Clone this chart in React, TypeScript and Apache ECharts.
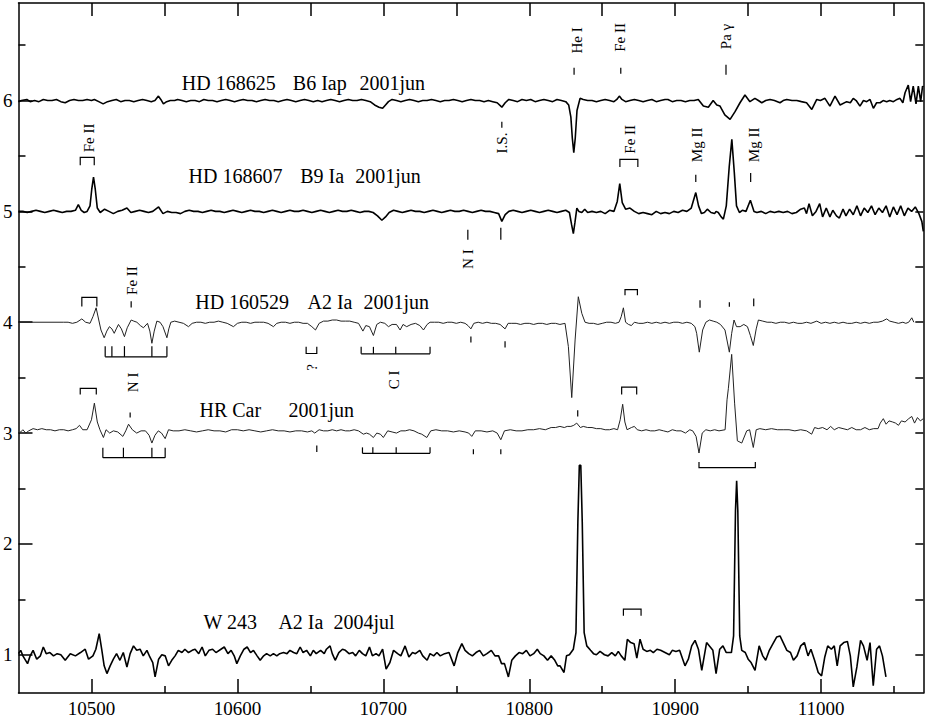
import React, { useEffect, useRef } from "react";
import * as echarts from "echarts";

// ---------- axes ----------
const X_MIN = 10450;
const X_MAX = 11070;
const Y_MIN = 0.655;
const Y_MAX = 6.88;
const xMajorTicks = [10500, 10600, 10700, 10800, 10900, 11000];
const xMinorTicks = [10550, 10650, 10750, 10850, 10950, 11050];
const xTopTicks = [10500, 10550, 10600, 10650, 10700, 10750, 10800, 10850, 10900, 10950, 11000, 11050];
const yMajorTicks = [1, 2, 3, 4, 5, 6];
const yMinorTicks = [1.5, 2.5, 3.5, 4.5, 5.5, 6.5];
const yRightTicks = [1, 1.5, 2, 2.5, 3, 3.5, 4, 4.5, 5, 5.5, 6, 6.5];

// ---------- spectra [wavelength (Å), normalised flux + offset] ----------
const hd168625: [number, number][] = [
[10450,5.99],[10452,6.00],[10455.7,6.01],[10458,5.99],[10461,6.00],[10464,5.99],[10467,6.01],[10470,6.00],[10473,6.00],[10476,6.01],[10479,5.99],[10482,5.98],[10485,6.00],[10488,6.01],[10491,6.00],[10494,6.00],[10497,6.01],[10500,6.00],[10502,6.01],[10505,5.99],[10508,5.97],[10511,5.99],[10514,6.00],[10517,6.01],[10520,5.99],[10523,6.00],[10526,6.00],[10529,5.99],[10532,6.00],[10535,6.01],[10538,6.00],[10541,5.99],[10543.5,6.00],[10545.9,6.04],[10547.5,6.01],[10549.3,5.97],[10551.5,5.99],[10554,6.00],[10557,6.00],[10559,6.01],[10562,6.00],[10565,5.99],[10568,6.00],[10571,6.00],[10574,5.99],[10577,6.01],[10580,6.00],[10583,6.00],[10586,5.99],[10589,6.00],[10592,6.01],[10595,6.00],[10598,5.99],[10601,6.00],[10604,6.01],[10607,6.00],[10610,6.00],[10613,5.99],[10616,6.00],[10619,6.01],[10622,6.00],[10625,6.00],[10628,5.99],[10631,6.00],[10634,6.01],[10637,6.00],[10640,5.99],[10643,6.00],[10646,6.01],[10649,6.00],[10652,5.99],[10655,6.00],[10658,5.99],[10661,6.00],[10664,6.01],[10667,6.00],[10670,5.99],[10673,6.00],[10676,6.01],[10679,6.00],[10682,6.00],[10685,6.01],[10688,6.00],[10691,5.99],[10694,5.96],[10697,5.94],[10699.5,5.93],[10701.5,5.96],[10703.5,5.99],[10706,6.01],[10709,6.00],[10712,5.99],[10715,6.00],[10718,6.01],[10721,6.00],[10724,5.99],[10727,6.00],[10730,6.00],[10733,6.01],[10736,6.00],[10739,5.99],[10742,6.00],[10745,6.00],[10748,6.01],[10751,6.00],[10754,5.99],[10757,6.00],[10760,6.01],[10763,6.00],[10766,6.00],[10769,5.99],[10772,6.00],[10775,5.99],[10778,5.98],[10781.2,5.94],[10783.5,5.98],[10786,6.01],[10789,6.00],[10792,5.99],[10795,6.01],[10798,6.00],[10801,6.01],[10804,5.99],[10807,6.00],[10810,6.01],[10813,6.00],[10816,5.99],[10819,6.01],[10822,6.00],[10825,5.99],[10827,5.96],[10828.5,5.85],[10829.5,5.66],[10830.5,5.53],[10831.5,5.66],[10832.7,5.91],[10834.8,6.02],[10837,6.01],[10840,6.00],[10843,6.00],[10846,5.99],[10849,6.00],[10852,6.01],[10855,6.00],[10858,5.99],[10860,6.01],[10861.7,6.04],[10863.5,6.01],[10866,5.99],[10869,6.00],[10872,6.01],[10875,6.00],[10878,5.99],[10881,6.00],[10884,6.01],[10887,5.99],[10890,6.00],[10893,6.01],[10895,6.01],[10898,5.99],[10901,6.00],[10904,6.00],[10907,5.99],[10910,6.00],[10913,6.00],[10915.8,6.01],[10919.3,5.95],[10922.7,5.94],[10926,6.00],[10928.5,5.96],[10930.7,5.95],[10934,5.87],[10937.6,5.83],[10941,5.90],[10944.4,5.98],[10947.8,6.05],[10951.2,5.99],[10954.6,6.02],[10957,6.00],[10959.3,5.98],[10962,6.00],[10965,6.01],[10968,6.00],[10971.8,5.98],[10974,6.00],[10976.4,6.01],[10980,6.00],[10983.3,6.00],[10986.5,5.99],[10990,5.98],[10993.6,5.92],[10997,6.01],[10999.5,6.00],[11002.6,6.02],[11006,5.95],[11009.5,6.04],[11013,5.96],[11017.5,5.99],[11020,5.98],[11022,6.02],[11024,6.00],[11026.6,5.95],[11029,6.00],[11031.2,5.99],[11033.5,6.01],[11035.8,5.93],[11038,5.98],[11040.4,5.98],[11042.5,6.00],[11044.9,5.99],[11047,6.00],[11049.5,5.99],[11052,6.01],[11054,6.02],[11056,5.98],[11057.5,6.07],[11059.7,6.14],[11061.3,5.99],[11063.1,6.13],[11065,5.97],[11066.6,6.13],[11068.2,5.99],[11069.5,6.13],[11070,6.12]
];

const hd168607: [number, number][] = [
[10450,5.00],[10453,5.00],[10456,4.99],[10459,5.00],[10462,5.01],[10465,5.00],[10468,4.99],[10471,5.00],[10474,5.01],[10477,5.00],[10480,4.99],[10483,5.00],[10486,5.00],[10489,5.01],[10491,5.06],[10493,5.01],[10495,4.99],[10497,5.00],[10499,5.05],[10500.2,5.20],[10501.4,5.31],[10502.6,5.20],[10504,5.03],[10506,4.99],[10509,5.02],[10512,5.00],[10515,4.98],[10518,5.00],[10521,5.01],[10524.3,5.03],[10527,4.99],[10530,5.00],[10533,5.01],[10536,5.00],[10539,4.99],[10542,5.00],[10546,5.04],[10549,4.98],[10552,5.00],[10555,4.99],[10558,4.99],[10561,4.98],[10564,5.00],[10567,5.01],[10570,5.00],[10573,5.00],[10576,4.99],[10579,5.00],[10582,5.01],[10585,5.00],[10588,5.00],[10591,4.99],[10594,5.00],[10597,5.01],[10600,5.00],[10603,4.99],[10606,5.00],[10609,5.01],[10612,5.00],[10615,5.00],[10618,4.99],[10621,5.00],[10624,5.01],[10627,5.00],[10630,4.99],[10633,5.00],[10636,5.01],[10639,5.00],[10642,5.00],[10645,5.01],[10648,5.00],[10651,4.99],[10654,5.00],[10657,5.01],[10660,5.00],[10663,4.99],[10666,5.00],[10669,5.01],[10672,5.00],[10675,5.00],[10678,5.01],[10681,5.00],[10684,4.99],[10687,5.00],[10690,5.00],[10693,4.99],[10696,4.96],[10699,4.92],[10701.5,4.95],[10704,4.99],[10707,5.01],[10710,5.00],[10713,4.99],[10716,5.00],[10719,5.01],[10722,5.00],[10725,5.00],[10728,4.99],[10731,5.00],[10734,5.01],[10737,5.00],[10740,4.99],[10743,5.00],[10746,5.01],[10749,5.00],[10752,5.00],[10755,5.01],[10758,5.00],[10761,4.99],[10764,5.00],[10767,5.01],[10770,5.00],[10773,5.00],[10776,4.99],[10779,4.98],[10781.2,4.91],[10783.5,4.97],[10786,5.00],[10789,5.01],[10792,5.00],[10795,4.99],[10798,5.00],[10801,5.01],[10804,5.00],[10807,4.99],[10810,5.00],[10813,5.01],[10816,5.00],[10819,4.99],[10822,5.00],[10825,5.01],[10827.5,4.99],[10829,4.88],[10830.2,4.80],[10831.3,4.90],[10832.6,5.03],[10834,5.00],[10836,4.99],[10838,5.02],[10840,4.99],[10843,5.00],[10846,4.99],[10849,5.00],[10852,4.98],[10855,5.01],[10858,5.00],[10860.3,5.09],[10862,5.25],[10863.7,5.08],[10866,5.02],[10869,5.03],[10872,5.00],[10875,4.98],[10878,4.99],[10881,4.98],[10884,4.97],[10887,5.00],[10890,4.98],[10893,4.99],[10896,4.98],[10899,5.00],[10902,4.99],[10905,5.01],[10908,5.00],[10911,5.03],[10914.1,5.17],[10916,5.05],[10918,4.98],[10920,4.99],[10922,5.02],[10924.5,4.99],[10927,4.98],[10928,5.00],[10929.5,4.99],[10931.5,4.95],[10933,4.93],[10935,5.05],[10937,5.40],[10938.8,5.65],[10940.5,5.35],[10942,5.05],[10944,4.99],[10946,5.01],[10948.5,5.00],[10951.5,5.10],[10954,5.00],[10956,4.99],[10959,5.00],[10962,4.98],[10965,5.00],[10968,4.99],[10971,5.00],[10974,4.99],[10977,5.00],[10980,4.98],[10983,4.99],[10986,5.02],[10988.5,5.03],[10990,4.98],[10991.7,5.07],[10994,4.96],[10996.5,5.00],[10999,5.07],[11001,4.95],[11003.5,5.03],[11006,4.95],[11008,5.01],[11010.5,4.96],[11012.5,4.94],[11015,5.02],[11017,4.96],[11019.5,5.02],[11022,4.97],[11024.5,5.05],[11027,4.96],[11029.5,5.03],[11032,4.99],[11034.5,5.05],[11037,4.97],[11039.5,5.03],[11042,4.99],[11044.5,5.05],[11047,4.95],[11049.5,5.04],[11052,4.97],[11054.5,5.05],[11057,4.96],[11059.5,5.03],[11062,5.00],[11064.5,5.04],[11067,4.98],[11069,4.91],[11070,4.82]
];

const hd160529: [number, number][] = [
[10450,4.00],[10481,4.00],[10484,4.00],[10487,3.99],[10490,4.00],[10493.4,4.03],[10496,4.00],[10499,3.99],[10501,4.05],[10503.2,4.13],[10505,4.02],[10506.5,3.93],[10508.7,3.86],[10510.5,3.92],[10512.3,3.96],[10514,3.94],[10515.6,3.90],[10517,3.94],[10518.5,3.98],[10520.5,3.94],[10522.6,3.87],[10524.5,3.95],[10527.2,4.02],[10529,4.01],[10531.1,4.00],[10533.5,3.97],[10535.6,3.95],[10538.4,3.99],[10540,3.92],[10541.4,3.81],[10543,3.92],[10544.8,4.01],[10547,4.00],[10549,3.96],[10551.7,3.86],[10553,3.94],[10554.4,4.00],[10557,4.01],[10560,4.00],[10563,3.99],[10566.5,3.96],[10569,3.99],[10572,4.00],[10575,4.00],[10578,3.99],[10581,4.00],[10584,4.00],[10587,4.01],[10590,4.00],[10593,3.99],[10597.3,3.96],[10600,3.99],[10603,4.00],[10606,4.00],[10609,3.99],[10612,4.00],[10615,4.00],[10618,4.00],[10621,3.99],[10624.7,3.96],[10627,3.99],[10630,4.00],[10633,4.00],[10636,3.99],[10639,4.00],[10642,4.00],[10645,3.99],[10648,3.99],[10651,3.96],[10653.5,3.93],[10656,3.99],[10659,4.01],[10662,4.01],[10665,4.02],[10668,4.02],[10671,4.01],[10674,4.01],[10677,4.01],[10680,4.00],[10683,3.99],[10686,3.92],[10688,3.97],[10690.5,3.96],[10693.2,3.88],[10695.5,3.98],[10698,4.00],[10701,3.99],[10703.5,3.96],[10706,3.98],[10709,3.98],[10711.5,3.93],[10713.5,3.98],[10716,3.96],[10719,3.98],[10722,3.99],[10725,3.97],[10727.5,3.93],[10730,3.98],[10732,4.00],[10735,4.00],[10738,4.00],[10741,3.99],[10744,4.00],[10747,4.00],[10750,3.99],[10753,4.00],[10756,3.99],[10758,3.97],[10760,3.94],[10762,3.99],[10765,4.00],[10768,3.99],[10771,4.00],[10774,3.99],[10777,3.99],[10780,3.98],[10783.4,3.94],[10785.5,3.99],[10788,3.99],[10791,3.99],[10794,3.98],[10797,3.99],[10800,3.99],[10803,3.98],[10806,3.99],[10809,3.99],[10812,3.98],[10815,3.99],[10818,3.99],[10821,3.98],[10824.5,3.99],[10826.8,3.78],[10829.1,3.32],[10831.4,3.84],[10833.6,4.23],[10836,4.08],[10838.2,4.00],[10841,3.99],[10844,3.99],[10847,3.98],[10850,3.99],[10853,4.00],[10856,4.00],[10859,3.99],[10861.5,4.00],[10863,4.05],[10864.5,4.13],[10866,4.00],[10868,3.98],[10870,3.97],[10872,4.00],[10875,3.99],[10878,3.99],[10881,4.00],[10884,3.99],[10887,4.00],[10890,3.99],[10893,4.00],[10896,3.99],[10899,4.00],[10902,4.00],[10905,3.99],[10908,4.00],[10911,3.99],[10913.5,3.96],[10914.7,3.90],[10916.5,3.73],[10918.8,3.93],[10921,4.00],[10923.5,4.02],[10926,4.01],[10928.5,4.00],[10931,3.98],[10934.1,3.93],[10937.1,3.73],[10938.7,3.90],[10940.3,4.02],[10942,3.96],[10944.5,3.96],[10947,3.98],[10949.5,3.96],[10951.5,3.88],[10953.5,3.79],[10955.5,3.94],[10957,4.02],[10960,4.01],[10963,4.00],[10966,4.00],[10969,3.99],[10972,4.00],[10975,4.00],[10978,3.99],[10981,4.00],[10984,3.99],[10987,3.99],[10990,4.00],[10993,3.99],[10997,4.01],[11000,3.99],[11003,4.00],[11006,3.99],[11009,4.00],[11012,3.99],[11015,4.00],[11018,3.99],[11021,3.99],[11024,4.00],[11027,3.99],[11030,4.00],[11033,3.99],[11036,4.00],[11039,4.00],[11042,4.01],[11044.9,4.03],[11047,4.01],[11050,4.00],[11053,3.99],[11056,4.00],[11058,3.99],[11060,4.00],[11062.1,4.04],[11063.5,4.00]
];

const hrCar: [number, number][] = [
[10450,3.00],[10451.5,3.01],[10453,3.03],[10455,3.00],[10457,3.02],[10460,3.04],[10463,3.03],[10466,3.04],[10469,3.03],[10472,3.03],[10475,3.02],[10478,3.03],[10481,3.03],[10484,3.02],[10487,3.03],[10489.5,3.04],[10491.8,3.07],[10494,3.03],[10497,3.03],[10500,3.12],[10502,3.27],[10504,3.10],[10505.8,3.03],[10508.2,2.96],[10510,3.03],[10512.5,3.00],[10515,3.02],[10518,3.01],[10521.5,2.97],[10523.5,3.02],[10525.4,3.08],[10528,3.03],[10531,3.00],[10534,3.02],[10537,3.02],[10539.5,2.98],[10541.4,2.91],[10543.5,2.98],[10545.8,3.02],[10548,3.00],[10550.5,2.95],[10552.8,3.03],[10556,3.02],[10560,3.02],[10564,3.03],[10568,3.02],[10572,3.01],[10576,3.02],[10580,3.03],[10584,3.02],[10588,3.02],[10592,3.01],[10596,3.03],[10600,3.03],[10604,3.02],[10608,3.03],[10612,3.02],[10616,3.01],[10620,3.02],[10624,3.03],[10628,3.02],[10632,3.02],[10636,3.01],[10640,3.02],[10644,3.02],[10648,3.01],[10651,3.02],[10653,3.00],[10656,3.03],[10659,3.02],[10662,3.02],[10665,3.03],[10668,3.02],[10671,3.03],[10674,3.02],[10677,3.02],[10680,3.03],[10683,3.02],[10686.3,2.99],[10688.5,3.00],[10690.5,2.99],[10693.2,2.96],[10695.5,3.00],[10698,2.99],[10700,2.96],[10703,3.02],[10706,3.01],[10709,3.00],[10712,3.02],[10715,3.02],[10718,3.03],[10721,3.02],[10724,3.00],[10726.3,2.99],[10729.8,2.96],[10732.5,3.02],[10736,3.03],[10740,3.02],[10744,3.02],[10748,3.01],[10752,3.02],[10756,3.01],[10758.5,3.00],[10760.6,2.97],[10763,3.02],[10767,3.02],[10771,3.01],[10775,3.02],[10778,3.00],[10780.5,2.94],[10783,3.02],[10787,3.03],[10791,3.02],[10795,3.02],[10799,3.03],[10803,3.03],[10807,3.04],[10811,3.03],[10815,3.05],[10818,3.05],[10821,3.06],[10824,3.05],[10826,3.06],[10828.5,3.06],[10830.5,3.07],[10832.5,3.09],[10835,3.05],[10837,3.06],[10840,3.05],[10843,3.05],[10846,3.04],[10849,3.04],[10852,3.03],[10855,3.03],[10858,3.04],[10860.5,3.03],[10862.3,3.12],[10864,3.26],[10865.5,3.10],[10867,3.03],[10870,3.05],[10872,3.06],[10874,3.03],[10877,3.02],[10880,3.03],[10883,3.02],[10886,3.02],[10889,3.03],[10892,3.02],[10895,3.01],[10898,3.03],[10901,3.02],[10904,3.02],[10907,3.00],[10910,3.03],[10912,3.02],[10914.3,2.97],[10916.3,2.82],[10918.5,3.00],[10921,3.03],[10924,3.02],[10927,3.03],[10930,3.02],[10934.2,3.03],[10935.5,3.30],[10936.4,3.40],[10938.7,3.71],[10940.7,3.27],[10942.6,2.93],[10945.6,2.91],[10949,3.02],[10951,3.03],[10953.5,2.87],[10955.5,3.03],[10958,3.04],[10962,3.03],[10966,3.04],[10970,3.03],[10974,3.03],[10978,3.03],[10982,3.02],[10986,3.03],[10990,3.02],[10993.5,2.99],[10995.5,3.05],[10998,3.04],[11001,3.05],[11004,3.03],[11006.5,3.06],[11009,3.03],[11012,3.05],[11015,3.04],[11018,3.03],[11021,3.05],[11024,3.03],[11027,3.03],[11030,3.05],[11033,3.03],[11036,3.04],[11039,3.04],[11040.5,3.09],[11042.6,3.13],[11044.5,3.08],[11046.5,3.11],[11049,3.10],[11051,3.09],[11053,3.07],[11055,3.11],[11057.5,3.10],[11060,3.13],[11062.1,3.15],[11064,3.09],[11066,3.14],[11068,3.11],[11070,3.13]
];

const w243: [number, number][] = [
[10450,1.01],[10451.5,1.04],[10453,0.99],[10456.2,0.92],[10458,0.99],[10460,1.04],[10462.5,0.96],[10465,0.99],[10467,1.07],[10469,1.01],[10471.5,1.02],[10474,0.99],[10476.5,1.01],[10479,1.00],[10482,0.95],[10485.5,1.01],[10489,0.99],[10492.5,1.02],[10495.7,1.05],[10498,0.96],[10501,0.99],[10503,1.05],[10505.3,1.19],[10507,1.05],[10508.7,0.90],[10510.6,0.83],[10512.8,0.90],[10515,0.96],[10517.2,1.01],[10519.5,0.95],[10521.8,1.02],[10524.3,0.89],[10526.5,1.01],[10528.8,1.08],[10531,1.04],[10533.3,1.05],[10535.5,0.99],[10538,1.04],[10540,0.98],[10542,0.93],[10543.6,0.80],[10546,0.96],[10548.2,1.00],[10550.5,0.99],[10552.8,0.90],[10555,0.95],[10557.3,0.99],[10559.5,1.04],[10562,1.02],[10564,1.05],[10566.5,1.02],[10569,1.04],[10571,1.05],[10573.5,1.01],[10575.8,1.07],[10578,0.99],[10580.5,1.04],[10583,1.05],[10585.3,1.02],[10588.7,1.05],[10591,1.07],[10593.5,1.01],[10595.7,1.04],[10597.8,0.99],[10599.6,0.92],[10602,0.99],[10604.5,1.05],[10606.7,1.07],[10609,1.02],[10611,1.04],[10613.5,0.99],[10615.6,0.95],[10618,0.99],[10620,1.01],[10622.5,0.99],[10624.7,1.01],[10627,0.99],[10629,1.01],[10631.6,1.02],[10634,1.01],[10636,1.04],[10638.5,1.02],[10640.7,1.01],[10643,1.07],[10645,1.02],[10647.4,1.04],[10650,0.99],[10652,1.04],[10654,1.01],[10657,1.04],[10659.5,1.01],[10661,1.05],[10663.5,1.08],[10665,1.01],[10667,0.95],[10669.5,1.02],[10672,1.05],[10674,1.04],[10676.5,1.01],[10679,1.02],[10681,0.99],[10683.5,1.04],[10685.7,1.01],[10688,0.99],[10690.5,1.07],[10692.5,0.99],[10695,1.01],[10697,0.99],[10699.5,1.05],[10701.9,0.87],[10704.5,0.93],[10707,1.04],[10709.8,1.01],[10712,0.99],[10714.9,1.08],[10717.5,0.98],[10720,1.02],[10722,1.01],[10725,1.04],[10727,0.99],[10730,0.95],[10732,1.01],[10734.5,0.99],[10736.7,1.02],[10739,0.99],[10742,1.01],[10745,1.02],[10748.5,0.90],[10751,1.02],[10753.8,1.10],[10756,1.04],[10758.5,1.01],[10761,0.99],[10763.5,1.02],[10766,1.04],[10768.5,0.99],[10771,1.01],[10774,1.04],[10776.5,0.99],[10779,0.99],[10781,0.92],[10783,0.92],[10785.7,0.80],[10788,0.95],[10790.5,0.99],[10793,1.02],[10795.5,1.01],[10798,1.04],[10800.5,0.99],[10803,1.01],[10805.5,1.05],[10807.5,1.01],[10810,0.99],[10812.5,0.95],[10815,0.99],[10817.5,0.95],[10819.5,0.90],[10821.1,0.90],[10823.8,0.84],[10825.5,0.99],[10827.5,1.00],[10830.2,1.05],[10832,1.20],[10833.3,2.20],[10834.3,2.71],[10835.3,2.71],[10836.3,2.20],[10837.6,1.20],[10839.4,1.08],[10842,1.04],[10844,1.01],[10846,1.00],[10848.5,1.03],[10851.5,1.00],[10854,0.99],[10856.5,1.02],[10859,0.99],[10861,1.03],[10863,0.99],[10865.5,0.95],[10867.2,1.14],[10869.5,1.11],[10871.8,1.10],[10873.7,0.97],[10875.9,1.14],[10878,1.05],[10880.5,1.03],[10883,1.04],[10885,1.02],[10887.5,1.05],[10890,1.04],[10893,1.02],[10896,1.00],[10898,1.04],[10900.5,1.03],[10903,1.04],[10906.7,0.90],[10909,0.96],[10911.3,1.08],[10913.6,1.13],[10915.9,1.05],[10918.2,0.86],[10921.5,1.11],[10924,1.07],[10925.8,1.04],[10928,0.83],[10930.5,1.05],[10932.7,1.08],[10935,1.02],[10938.5,1.02],[10940,1.17],[10941.3,2.30],[10942.1,2.57],[10942.9,2.30],[10944.2,1.17],[10945.6,1.04],[10948,1.02],[10950,0.96],[10952,0.93],[10954.7,0.86],[10957.5,1.08],[10960,0.99],[10962,0.95],[10964.5,1.04],[10967,1.10],[10969.5,1.16],[10971.8,1.17],[10974,1.11],[10976.5,1.04],[10979,1.02],[10981,0.95],[10983.5,0.99],[10986,1.08],[10988.5,1.11],[10991,0.99],[10993,1.05],[10995.5,0.95],[10998,0.84],[11000.3,0.81],[11002.5,0.98],[11004.5,1.08],[11007,1.05],[11009,1.08],[11011,0.90],[11013,1.08],[11015.5,1.11],[11018,1.12],[11020,0.99],[11022,0.71],[11024.5,0.89],[11027,1.13],[11029,1.08],[11031.5,0.95],[11033.5,1.11],[11035.7,0.72],[11038,1.05],[11040,1.08],[11042,0.99],[11044.4,0.80]
];

// ---------- annotations (wavelength, level) ----------
// single ticks: [wavelength, from, to]
const lineTicks: [number, number, number][] = [
  [10830.7, 6.295, 6.232], [10862.7, 6.295, 6.241], [10934.8, 6.322, 6.232],
  [10781.2, 5.808, 5.754], [10914.1, 5.33, 5.266], [10951.7, 5.347, 5.266],
  [10757.9, 4.834, 4.745], [10780.5, 4.853, 4.745],
  [10527.2, 4.189, 4.132], [10917.0, 4.198, 4.130], [10937.1, 4.18, 4.139], [10953.8, 4.214, 4.144],
  [10760.0, 3.871, 3.817], [10783.4, 3.829, 3.772],
  [10526.5, 3.186, 3.141], [10833.2, 3.205, 3.15],
  [10654.4, 2.889, 2.829], [10761.7, 2.853, 2.808], [10780.5, 2.853, 2.808],
];
// brackets / combs: tick wavelengths, level of the bar, level of the tick ends
const combs: { at: number[]; bar: number; end: number }[] = [
  { at: [10492.3, 10501.9], bar: 5.488, end: 5.416 },
  { at: [10862.1, 10874.4], bar: 5.47, end: 5.40 },
  { at: [10493.4, 10503.7], bar: 4.225, end: 4.141 },
  { at: [10865.6, 10874.1], bar: 4.295, end: 4.243 },
  { at: [10509.4, 10514.0, 10522.6, 10541.4, 10551.7], bar: 3.688, end: 3.784 },
  { at: [10647.1, 10654.4], bar: 3.718, end: 3.778 },
  { at: [10684.8, 10693.2, 10708.5, 10732.0], bar: 3.715, end: 3.778 },
  { at: [10492.3, 10503.3], bar: 3.403, end: 3.349 },
  { at: [10863.3, 10873.6], bar: 3.414, end: 3.349 },
  { at: [10507.8, 10521.9, 10541.4, 10550.5], bar: 2.778, end: 2.868 },
  { at: [10685.7, 10692.8, 10708.8, 10732.0], bar: 2.817, end: 2.871 },
  { at: [10916.3, 10954.9], bar: 2.688, end: 2.739 },
  { at: [10864.5, 10876.6], bar: 1.412, end: 1.351 },
];
// rotated line identifications: [text, wavelength, level]
const lineIds: [string, number, number][] = [
  ["He I", 10832.5, 6.542], ["Fe II", 10862.2, 6.569], ["Pa \u03b3", 10934.5, 6.578],
  ["Fe II", 10498.4, 5.663], ["I.S.", 10781.2, 5.617], ["Fe II", 10869.0, 5.65],
  ["Mg II", 10914.9, 5.60], ["Mg II", 10953.7, 5.60], ["N I", 10758.3, 4.569],
  ["Fe II", 10527.7, 4.376], ["?", 10651.0, 3.592], ["C I", 10707.5, 3.479], ["N I", 10528.6, 3.457],
];
// star captions: pieces of text, wavelength of each piece, level
const captions: { parts: string[]; at: number[]; level: number }[] = [
  { parts: ["HD 168625", "B6 Iap", "2001jun"], at: [10561.9, 10638.0, 10683.6], level: 6.157 },
  { parts: ["HD 168607", "B9 Ia", "2001jun"], at: [10566.5, 10643.0, 10680.7], level: 5.315 },
  { parts: ["HD 160529", "A2 Ia", "2001jun"], at: [10571.1, 10648.0, 10686.4], level: 4.184 },
  { parts: ["HR Car", "2001jun"], at: [10574.0, 10635.0], level: 3.207 },
  { parts: ["W 243", "A2 Ia", "2004jul"], at: [10576.7, 10628.1, 10665.8], level: 1.292 },
];

const spectra = [
  { name: "HD 168625", data: hd168625, width: 1.6, color: "#000" },
  { name: "HD 168607", data: hd168607, width: 1.6, color: "#000" },
  { name: "HD 160529", data: hd160529, width: 1.0, color: "#222" },
  { name: "HR Car", data: hrCar, width: 1.0, color: "#222" },
  { name: "W 243", data: w243, width: 1.6, color: "#000" },
];

const FONT = "Liberation Serif";

export default function App() {
  const ref = useRef<HTMLDivElement>(null);
  useEffect(() => {
    document.body.style.margin = "0";
    const chart = echarts.init(ref.current!, undefined, { renderer: "svg" });
    const axisLine = { show: true, lineStyle: { color: "#000", width: 1.5 } };
    const tickStyle = { color: "#000", width: 1.5 };
    const plain = (v: number) => String(v);
    const segs: { coords: number[][] }[] = [];
    lineTicks.forEach(([x, a, b]) => segs.push({ coords: [[x, a], [x, b]] }));
    combs.forEach((c) => {
      const n = c.at.length;
      if (n === 2) {
        segs.push({ coords: [[c.at[0], c.end], [c.at[0], c.bar], [c.at[1], c.bar], [c.at[1], c.end]] });
      } else {
        segs.push({ coords: [[c.at[0], c.bar], [c.at[n - 1], c.bar]] });
        c.at.forEach((x) => segs.push({ coords: [[x, c.bar], [x, c.end]] }));
      }
    });
    chart.setOption({
      animation: false,
      backgroundColor: "#fff",
      textStyle: { fontFamily: FONT },
      grid: { left: 18.3, right: 2.7, top: 3, bottom: 24, containLabel: false },
      xAxis: [
        {
          type: "value", min: X_MIN, max: X_MAX, position: "bottom",
          axisLine, splitLine: { show: false },
          axisTick: { show: true, inside: true, length: 14, lineStyle: tickStyle, customValues: xMajorTicks },
          axisLabel: { show: true, customValues: xMajorTicks, formatter: plain, fontFamily: FONT, fontSize: 19, color: "#000", margin: 6 },
        },
        {
          type: "value", min: X_MIN, max: X_MAX, position: "bottom",
          axisLine: { show: false }, splitLine: { show: false }, axisLabel: { show: false },
          axisTick: { show: true, inside: true, length: 7, lineStyle: tickStyle, customValues: xMinorTicks },
        },
        {
          type: "value", min: X_MIN, max: X_MAX, position: "top",
          axisLine, splitLine: { show: false }, axisLabel: { show: false },
          axisTick: { show: true, inside: true, length: 13, lineStyle: tickStyle, customValues: xTopTicks },
        },
      ],
      yAxis: [
        {
          type: "value", min: Y_MIN, max: Y_MAX, position: "left",
          axisLine, splitLine: { show: false },
          axisTick: { show: true, inside: true, length: 14, lineStyle: tickStyle, customValues: yMajorTicks },
          axisLabel: { show: true, customValues: yMajorTicks, formatter: plain, fontFamily: FONT, fontSize: 19, color: "#000", margin: 6 },
        },
        {
          type: "value", min: Y_MIN, max: Y_MAX, position: "left",
          axisLine: { show: false }, splitLine: { show: false }, axisLabel: { show: false },
          axisTick: { show: true, inside: true, length: 7, lineStyle: tickStyle, customValues: yMinorTicks },
        },
        {
          type: "value", min: Y_MIN, max: Y_MAX, position: "right",
          axisLine, splitLine: { show: false }, axisLabel: { show: false },
          axisTick: { show: true, inside: true, length: 8, lineStyle: tickStyle, customValues: yRightTicks },
        },
      ],
      series: [
        ...spectra.map((s) => ({
          type: "line", name: s.name, data: s.data, xAxisIndex: 0, yAxisIndex: 0,
          showSymbol: false, symbol: "none", clip: true, silent: true,
          lineStyle: { color: s.color, width: s.width }, itemStyle: { color: s.color },
        })),
        {
          type: "lines", coordinateSystem: "cartesian2d", xAxisIndex: 0, yAxisIndex: 0,
          polyline: true, silent: true, data: segs,
          lineStyle: { color: "#000", width: 1.2, opacity: 1 },
        },
      ],
    });
    const px = (x: number, y: number) => chart.convertToPixel({ xAxisIndex: 0, yAxisIndex: 0 }, [x, y]) as number[];
    const elements: any[] = [];
    lineIds.forEach(([t, x, y]) => {
      const p = px(x, y);
      elements.push({
        type: "text", x: p[0], y: p[1], rotation: Math.PI / 2, silent: true,
        style: { text: t, fontSize: 15, fontFamily: FONT, fill: "#000", align: "center", verticalAlign: "middle", textAlign: "center", textVerticalAlign: "middle" },
      });
    });
    captions.forEach((c) => {
      c.parts.forEach((t, i) => {
        const p = px(c.at[i], c.level);
        elements.push({
          type: "text", x: p[0], y: p[1], silent: true,
          style: { text: t, fontSize: 20, fontFamily: FONT, fill: "#000", align: "left", verticalAlign: "middle", textAlign: "left", textVerticalAlign: "middle" },
        });
      });
    });
    chart.setOption({ graphic: { elements } });
    return () => chart.dispose();
  }, []);
  return <div ref={ref} style={{ width: 926, height: 718 }} />;
}
